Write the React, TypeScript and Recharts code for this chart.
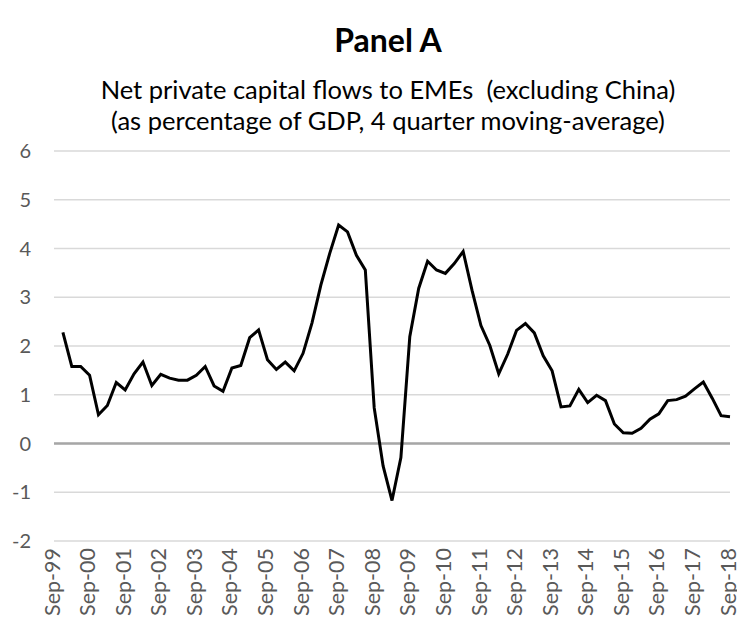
import React from "react";
import { LineChart, Line, XAxis, YAxis, CartesianGrid, ReferenceLine } from "recharts";

const quarters: string[] = [
  "Sep-99", "Dec-99",
  "Mar-00", "Jun-00", "Sep-00", "Dec-00",
  "Mar-01", "Jun-01", "Sep-01", "Dec-01",
  "Mar-02", "Jun-02", "Sep-02", "Dec-02",
  "Mar-03", "Jun-03", "Sep-03", "Dec-03",
  "Mar-04", "Jun-04", "Sep-04", "Dec-04",
  "Mar-05", "Jun-05", "Sep-05", "Dec-05",
  "Mar-06", "Jun-06", "Sep-06", "Dec-06",
  "Mar-07", "Jun-07", "Sep-07", "Dec-07",
  "Mar-08", "Jun-08", "Sep-08", "Dec-08",
  "Mar-09", "Jun-09", "Sep-09", "Dec-09",
  "Mar-10", "Jun-10", "Sep-10", "Dec-10",
  "Mar-11", "Jun-11", "Sep-11", "Dec-11",
  "Mar-12", "Jun-12", "Sep-12", "Dec-12",
  "Mar-13", "Jun-13", "Sep-13", "Dec-13",
  "Mar-14", "Jun-14", "Sep-14", "Dec-14",
  "Mar-15", "Jun-15", "Sep-15", "Dec-15",
  "Mar-16", "Jun-16", "Sep-16", "Dec-16",
  "Mar-17", "Jun-17", "Sep-17", "Dec-17",
  "Mar-18", "Jun-18", "Sep-18",
];

const flows: (number | null)[] = [
  null, 2.28,
  1.58, 1.58, 1.40, 0.59,
  0.78, 1.25, 1.10, 1.43,
  1.67, 1.19, 1.42, 1.34,
  1.30, 1.30, 1.40, 1.58,
  1.18, 1.07, 1.55, 1.60,
  2.17, 2.33, 1.72, 1.52,
  1.67, 1.49, 1.85, 2.47,
  3.25, 3.90, 4.48, 4.34,
  3.86, 3.56, 0.73, -0.46,
  -1.17, -0.29, 2.19, 3.18,
  3.74, 3.56, 3.49, 3.69,
  3.94, 3.14, 2.42, 2.01,
  1.43, 1.83, 2.32, 2.46,
  2.27, 1.80, 1.49, 0.75,
  0.77, 1.11, 0.84, 0.99,
  0.88, 0.40, 0.22, 0.21,
  0.31, 0.50, 0.61, 0.88,
  0.90, 0.97, 1.12, 1.26,
  0.93, 0.57, 0.55,
];

const xTickLabels: string[] = [
  "Sep-99", "Sep-00", "Sep-01", "Sep-02", "Sep-03", "Sep-04", "Sep-05",
  "Sep-06", "Sep-07", "Sep-08", "Sep-09", "Sep-10", "Sep-11", "Sep-12",
  "Sep-13", "Sep-14", "Sep-15", "Sep-16", "Sep-17", "Sep-18",
];

const yTicks: number[] = [-2, -1, 0, 1, 2, 3, 4, 5, 6];

const title = "Panel A";
const subtitle1 = "Net private capital flows to EMEs\u00a0 (excluding China)";
const subtitle2 = "(as percentage of GDP, 4 quarter moving-average)";

const data = quarters.map((q, i) => ({ q, v: flows[i] }));

const FONT = "Lato, 'Open Sans', sans-serif";

const XTick = (props: any) => {
  const { x, y, payload } = props;
  return (
    <text
      x={x}
      y={y}
      dy="0.26em"
      textAnchor="end"
      transform={`rotate(-90, ${x}, ${y})`}
      fill="#595959"
      fontSize={21.5}
      fontFamily={FONT}
    >
      {payload.value}
    </text>
  );
};

const W = 737;
const H = 617;

export default function App() {
  return (
    <div style={{ position: "relative", width: W, height: H, background: "#fff" }}>
      <div
        style={{
          position: "absolute",
          left: 80,
          width: 600,
          top: 14,
          textAlign: "center",
          fontFamily: FONT,
          fontWeight: 700,
          fontSize: 32,
          lineHeight: "36px",
          color: "#000",
        }}
      >
        {title}
      </div>
      <div
        style={{
          position: "absolute",
          left: 0,
          width: 760,
          top: 66,
          textAlign: "center",
          fontFamily: FONT,
          fontSize: 25.5,
          lineHeight: "31px",
          color: "#000",
          whiteSpace: "nowrap",
        }}
      >
        <div>{subtitle1}</div>
        <div>{subtitle2}</div>
      </div>
      <div style={{ position: "absolute", left: 0, top: 0 }}>
        <LineChart
          width={W}
          height={H}
          data={data}
          margin={{ top: 143, right: 15, bottom: 4, left: 0 }}
          style={{ overflow: "visible" }}
        >
          <CartesianGrid vertical={false} stroke="#d9d9d9" strokeWidth={1.5} />
          <XAxis
            dataKey="q"
            ticks={xTickLabels}
            interval={0}
            tickLine={false}
            axisLine={false}
            tickSize={0}
            tickMargin={7}
            height={80}
            tick={<XTick />}
          />
          <YAxis
            domain={[-2, 6]}
            ticks={yTicks}
            interval={0}
            tickLine={false}
            axisLine={false}
            width={46}
            tickSize={6}
            tickMargin={17}
            tick={{ fill: "#595959", fontSize: 20, fontFamily: FONT }}
          />
          <ReferenceLine y={0} stroke="#a6a6a6" strokeWidth={2.5} />
          <Line
            type="linear"
            dataKey="v"
            stroke="#000000"
            strokeWidth={3}
            dot={false}
            activeDot={false}
            isAnimationActive={false}
          />
        </LineChart>
      </div>
    </div>
  );
}
